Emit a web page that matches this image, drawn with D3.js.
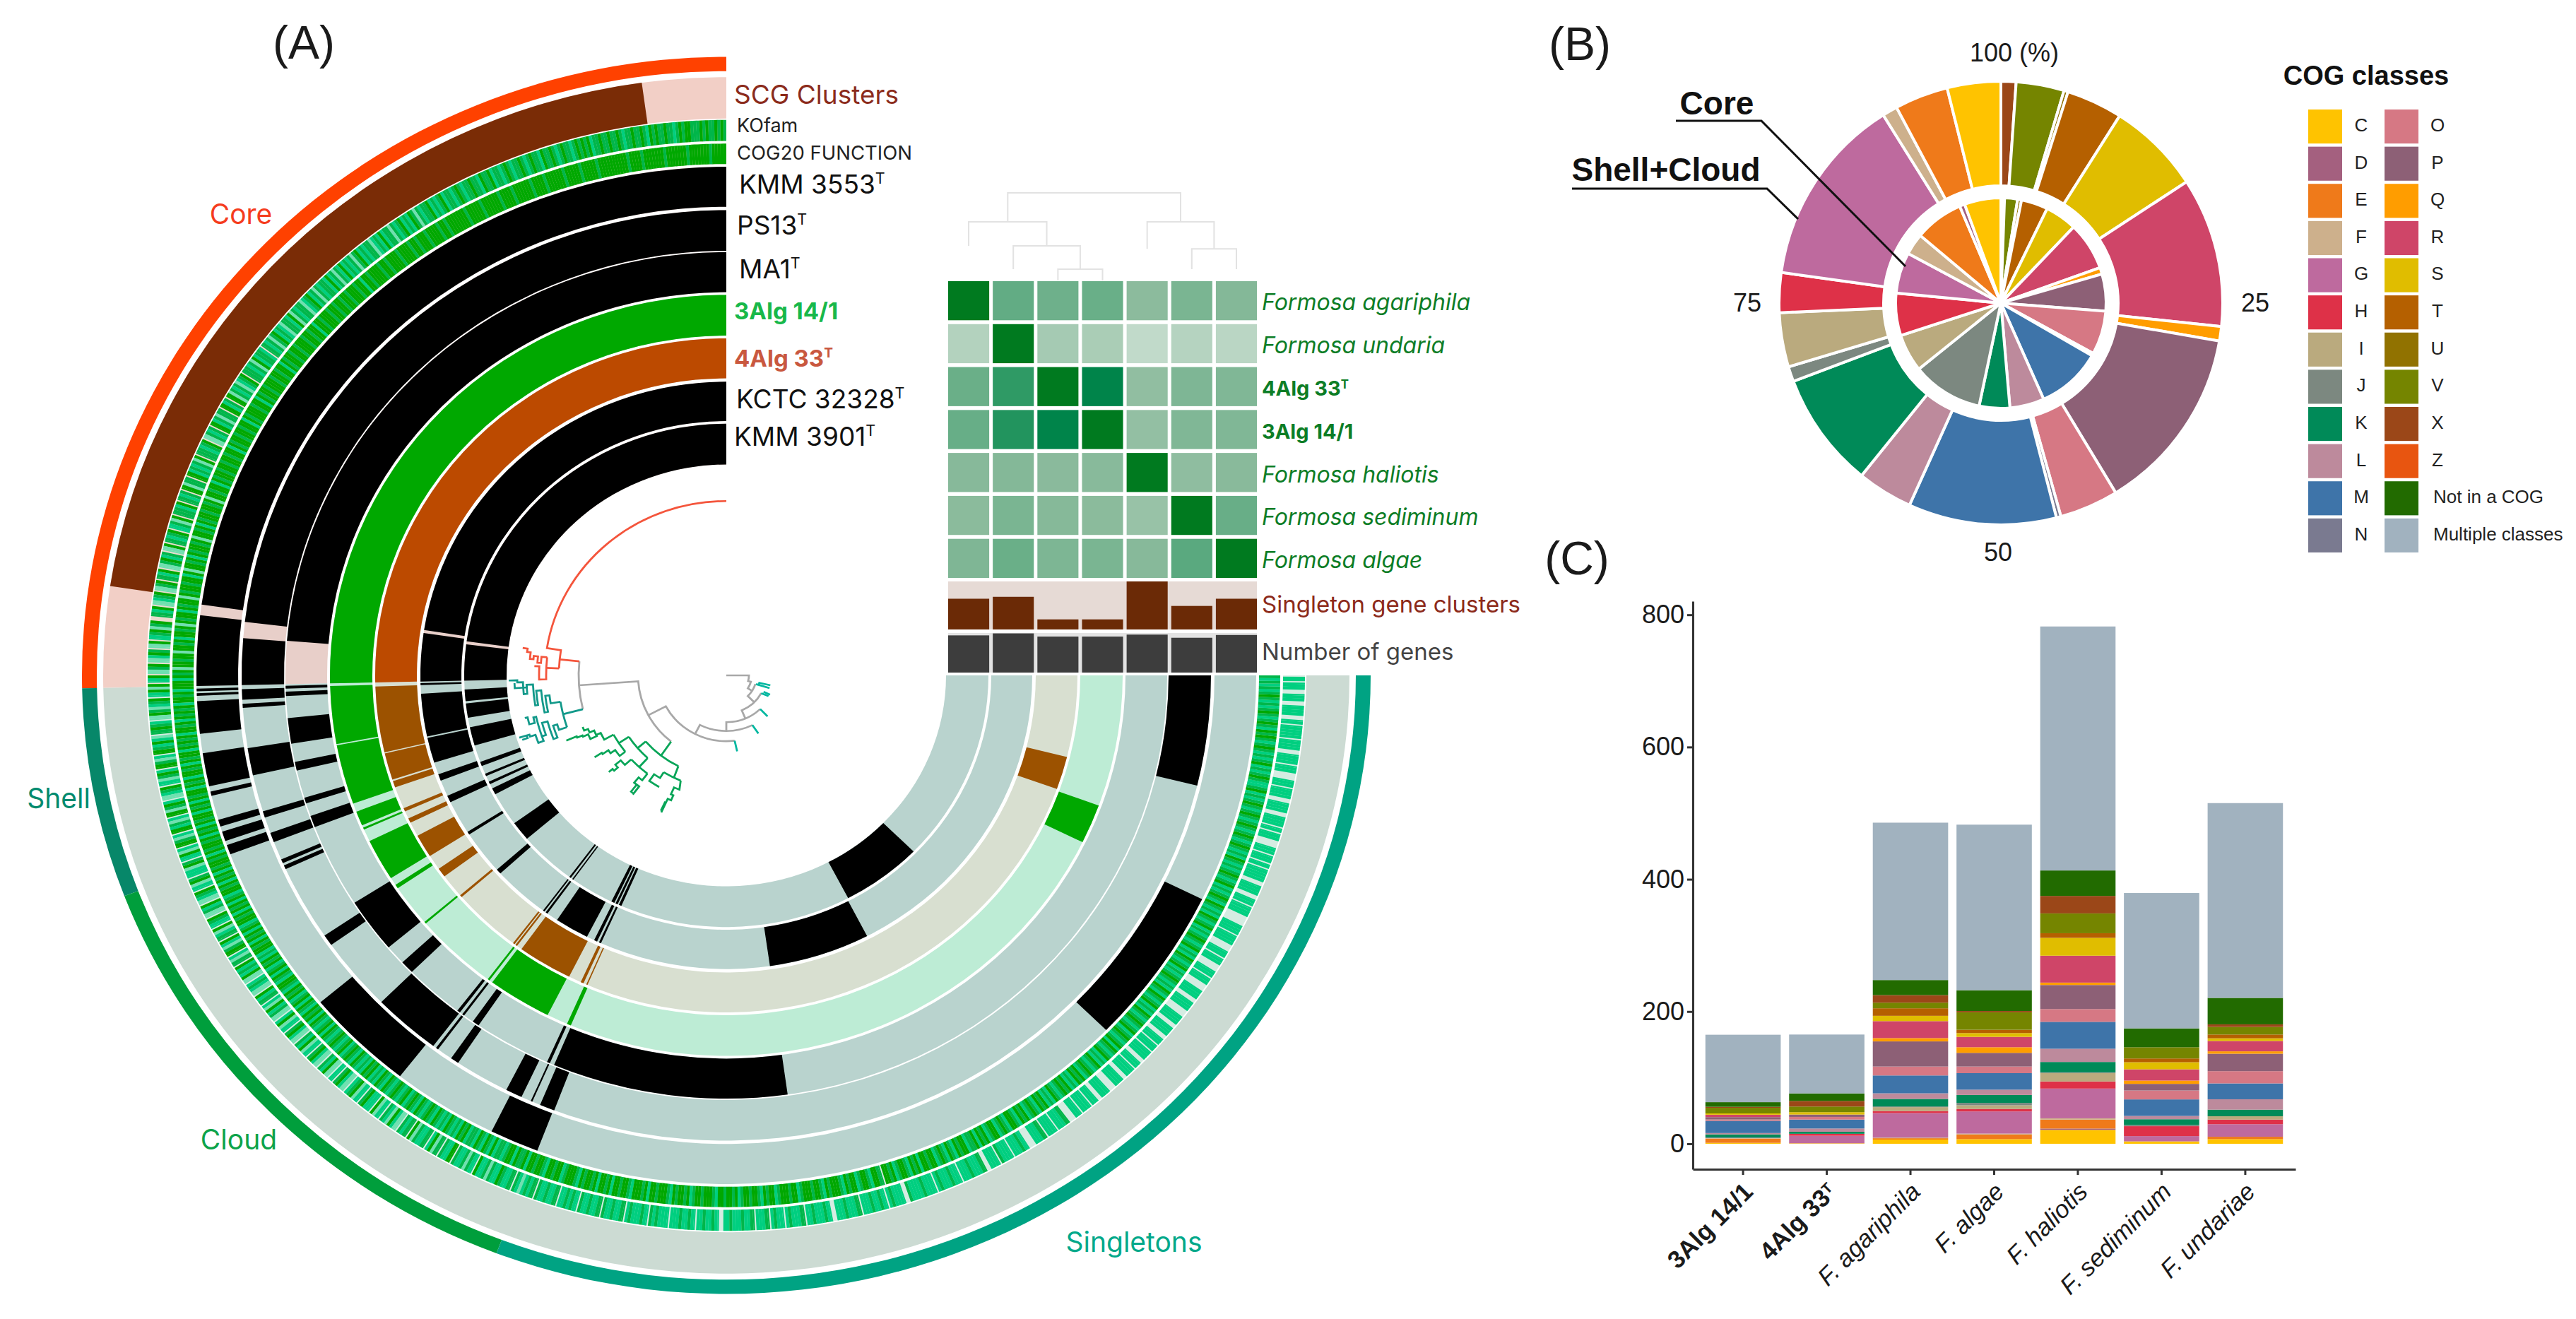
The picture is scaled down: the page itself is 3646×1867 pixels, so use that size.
<!DOCTYPE html>
<html>
<head>
<meta charset="utf-8">
<script src="https://cdn.jsdelivr.net/npm/d3@7"></script>
<style>
  html, body { margin: 0; background: #fff; }
  text { font-family: "Liberation Sans", Arial, sans-serif; }
  .inter text, text.inter { font-family: Inter, "Liberation Sans", sans-serif; }
</style>
</head>
<body>
<svg id="chart" width="3646" height="1867"></svg>
<script>
// ---------- panel A: ring spans, in degrees counter-clockwise from the top ----------
const binNames = ['Core', 'Shell', 'Cloud', 'Singletons'];
const binEnds = [0, 91.2, 110.9, 159.1, 270];
const scgSpans = [[7.8, 81.4]];

const strainNames = ['KMM 3553^T', 'PS13^T', 'MA1^T', '3Alg 14/1', '4Alg 33^T', 'KCTC 32328^T', 'KMM 3901^T'];
const kmm3553 = [[0,82],[83.2,91.2],[91.5,91.8],[92,92.3],[92.9,96.6],[98.8,102.6],[103.2,103.7],[106.5,107.3],[107.9,109],[109.5,110.6],[130,142],[153.7,159.1],[225.8,243.9]];
const ps13 = [[0,83.4],[85.4,91.2],[91.7,93],[93.5,94],[99,102.4],[107,107.8],[109.8,111],[113.3,113.8],[114.1,114.6],[124,125.4],[134.6,142.8],[143.2,143.5],[145.4,146.4],[153,155],[156.2,156.4],[157.4,159.2],[256.3,270]];
const ma1 = [[0,85.3],[91.4,91.8],[92.2,92.8],[95.8,99.3],[101.8,103],[106.8,107.6],[109.4,111],[122.5,130],[132.7,134.5],[142.4,142.8],[143.2,143.5],[144.9,145.8],[156,156.4],[157,188]];
const alg14 = [[0,91.2],[91.6,100.4],[100.6,109.7],[111,113.2],[113.6,113.9],[115.8,122.2],[123.4,124],[130.4,130.7],[143,143.3],[143.8,153.2],[156.3,156.9],[244,250]];
const alg33 = [[0,91.2],[91.9,103.2],[103.4,108],[108.3,109.4],[113.2,113.8],[115.1,115.9],[118.4,122.4],[125,126.6],[130.7,131.1],[142.6,142.9],[143.1,143.4],[144.3,153.4],[155.5,156],[156.5,156.7],[250.3,256]];
const kctc = [[0,81.1],[81.7,91.2],[91.5,91.9],[93.6,102],[102.3,107.3],[109.7,111],[114.2,115.6],[122.2,122.8],[131.4,132.4],[143.2,143.5],[143.8,144.2],[146.4,152.9],[154.4,155],[155.4,155.8],[188.2,207.4]];
const kmm3901 = [[0,82.2],[82.9,91.2],[93.2,95.9],[96.4,99.7],[101.9,106.2],[110.1,111.1],[113,113.6],[115,115.6],[116.7,118.2],[126,130.5],[143.2,143.6],[144,144.3],[154,154.7],[155,155.5],[155.8,156.4],[207.7,225.6]];
const strainSpans = [kmm3553, ps13, ma1, alg14, alg33, kctc, kmm3901];

// function rings, one digit per 0.3 degree: shade of green, 4 = nothing
const kofamStripes = [
  '1010110101110010121101101021011011210110110112010 1',
  '0121101210110211012101121012112011021101121012 1120',
  '1212011213102120121311202123112120131212021312 0211',
  '2131201231121302113212013121421120312114012312 1304',
  '1204113120412134012114031212041130412140211403 1240',
  '1214034120134021401340123402144013012403410234 0134',
  '0240',
  '302401231034210143202104231042013240123420130423 12',
  '0423104230241032',
  '241032401234021340124032140231042314021203421234 02',
  '142302134203241023412032410234120342410234210324 10',
  '224032412302341214031221420314122041221312402213 12',
  '2012214123',
  '212141221221422121241221221412212214212221241212 22',
  '422212212422122124422122212214222142122421222142 21',
  '222124422212221422212212421222441222212224212221 22',
  '422212221442224122242221244422214222422214442242 22',
  '422442224442224422242244222422422442224422244422 24',
  '422244422422444224224442224222444422242244222442 22',
  '242422422444224242224422244222422444224222442224 22',
  '2242442224 4224422424'
].join('').replace(/ /g, '');
const cogStripes = [
  '0000010000000100000001000000010000100000000001 0000',
  '0100000100000010000100000010000100000010000010 0000',
  '0010010000100010010000100001001000010020010001 0010',
  '0100100010020010010001001001020010010001001020 0100',
  '0102001001001020010010010010200100301001001020 1003',
  '0100102010030200100103001020010301002010030010 0301',
  '0200',
  '020100201010201002010102001020100201020010201020 01',
  '0201020100102010',
  '010201020100210201020100210201020100212010210201 20',
  '012010210201201020121020121012102101201212010212 01',
  '201210121021012012101201212012120102112012012021 12',
  '1002011020',
  '010012001002100012010010200102001001200010200100 01',
  '201001021001000120010010210010012010021000100210 00',
  '100120100012010021001200140010210012010200100210 12',
  '012010021102010210021012001201021012010212012101 02',
  '120102101210212012102012101201210121021201210210 21',
  '210121201210212012101212012102121021012120121012 12',
  '102121012101210121012101212012210121201212101210 10',
  '2101210121 2101212121'
].join('').replace(/ /g, '');

// tree branches as [degrees, radius] steps
const treeGrey = [
  [[270,0],[270,32],[255,32],[255,36],[238,36],[238,43]],
  [[253,43],[225,43],[225,56]],
  [[242,56],[203,56],[203,69]],
  [[224,69],[180,69],[180,82]],
  [[206.7,82],[152.9,82],[152.9,97]],
  [[187,97],[118,97],[118,125]],
  [[141.3,125],[94,125],[94,209]],
  [[103.8,209],[84.3,209]]
];
const treeRed = [
  [[84.3,209],[84.3,237]],
  [[87.5,237],[81,237],[81,257],[0,257]],
  [[87.5,237],[87.5,255]],
  [[84,255],[91.3,255],[91.3,265],[87.1,265],[87.1,272]],
  [[84,255],[84,263],[86,263],[86,268],[84,268],[84,274],[85,274],[85,279],[83,279],[83,284],[82,284],[82,291]]
];
const treeTeal = [
  [[103.8,209],[103.9,238]],
  [[99.4,238],[108.7,238]],
  [[99.4,238],[99.4,252],[96.7,252],[96.7,258],[102,258],[102,263],[94.8,263],[94.8,270],[99.3,270],[99.3,274],[92.8,274],[92.8,283],[95.5,283],[95.5,288],[92,288],[92,296],[91.4,296],[91.4,308]],
  [[92.8,283],[93.6,283],[93.6,300],[92.2,300]],
  [[108.7,238],[108.7,250],[106.8,250],[106.8,256],[111,256],[111,262],[105,262],[105,270],[109,270],[109,276],[102.8,276],[102.8,280],[104.5,280],[104.5,288],[102.4,288],[102.4,292]],
  [[109,276],[110.5,276],[110.5,284],[108,284],[108,292],[107.4,292],[107.4,307]],
  [[107.4,296],[108.2,296],[108.2,304]]
];
const treeTips = [
  [[253,44],[253,64]],[[253,48],[256.8,48],[256.8,64]],[[242,56],[243,67]],[[245.4,58],[245.4,68]],
  [[224,69],[224,84]],[[206.7,82],[207.9,97]],[[187,97],[187.8,113]]
];
const treeGreen = [
  [[141.3,125],[142,150]],
  [[130.5,150],[153.1,150]],
  [[130.5,150],[130.5,165]],
  [[123.3,165],[137.6,165]],
  [[123.3,165],[123.3,182]],
  [[118.7,182],[128.2,182]],
  [[118.7,182],[118.7,197],[115.5,197],[115.5,204],[113.5,204],[113.5,211],[112,211],[112,217],[110.5,217]],
  [[115.5,204],[116,204],[116,214],[114,214],[114,222],[113.5,222],[113.5,230],[113,230],[113,246]],
  [[128.2,182],[128.2,192],[125,192],[125,200],[123.5,200],[123.5,210],[122.9,210],[122.9,222]],
  [[137.6,165],[137.6,183]],
  [[132.6,183],[142.4,183]],
  [[132.6,183],[132.6,195],[130,195],[130,205],[131.5,205],[131.5,212],[130.6,212],[130.6,219]],
  [[142.4,183],[142.4,195],[140.5,195],[140.5,205],[143,205],[143,220]],
  [[141.8,205],[141.8,218],[142.6,218]],
  [[153.1,150],[153.8,168]],
  [[148.2,168],[157.4,168]],
  [[148.2,168],[148.2,178],[145,178],[145,190],[150,190]],
  [[157.4,168],[158.5,181],[155.9,181],[155.9,192],[157,192],[157,200],[155.5,200],[155.5,222]],
  [[155.1,205],[155.1,220]]
];

// heat map of panel A, share of the strongest link
const heatRows = ['Formosa agariphila', 'Formosa undaria', '4Alg 33^T', '3Alg 14/1', 'Formosa haliotis', 'Formosa sediminum', 'Formosa algae'];
const heatValues = [
  [1, .635, .597, .613, .5, .558, .526],
  [.33, 1, .39, .37, .27, .32, .3],
  [.61, .8, 1, .95, .48, .545, .54],
  [.62, .84, .95, 1, .47, .54, .54],
  [.516, .526, .506, .513, 1, .487, .51],
  [.503, .558, .52, .503, .448, 1, .616],
  [.542, .61, .548, .558, .516, .66, 1]
];
const singletonShare = [64, 68, 21, 21, 100, 49, 64];
const geneShare = [94, 99, 91, 91, 96, 88, 95];
// left, right, height, left foot, right foot (column units, height 0-100)
const dendroMerges = [[2,3,13,0,0],[1,2.5,39.5,13,13],[0,1.75,67,39.5,39.5],[5,6,36,13,13],[4,5.5,67,36,36],[.875,4.75,100,67,67]];

// ---------- panels B and C ----------
const cogClasses = ['C','D','E','F','G','H','I','J','K','L','M','N','O','P','Q','R','S','T','U','V','X','Z','Not in a COG','Multiple classes'];
const cogColors = ['#ffc300','#a4607f','#ef7a1a','#cdb08c','#be6a9e','#de3148','#baaa7e','#7c8880','#008a58','#bd8a9c','#3e74a9','#7a7a90','#d67884','#8d6076','#ff9d00','#cf4568','#e0bd00','#b56000','#917200','#758500','#9b4718','#e85510','#226b00','#a1b2bf'];

const shellClasses = ['X','V','U','T','S','R','Q','P','O','N','M','L','K','J','I','H','G','F','E','C'];
const shellShare = [1.1,3.5,.3,4.1,6.8,10.9,1.05,13.6,4.3,.33,10.8,4.05,8.45,1.1,3.95,2.9,13.9,1.1,3.9,3.9];
const coreClasses = ['V','U','T','S','R','Q','P','O','N','M','L','K','J','I','H','G','F','E','D','C'];
const coreShare = [2,.6,4.1,4.9,7.4,1,5.7,6.7,.4,10,5.3,4.7,10.9,5.8,6.5,6.3,3.3,7.5,.8,5.6];
const pieTicks = ['100 (%)', '25', '50', '75'];

const genomes = ['3Alg 14/1', '4Alg 33^T', 'F. agariphila', 'F. algae', 'F. haliotis', 'F. sediminum', 'F. undariae'];
// counts in cogClasses order
const countsAlg14 = [1.4,0,6.4,.7,.7,0,0,0,5,2,18.5,0,2,3.6,0,3.6,2,0,0,8.5,1.5,0,7,102];
const countsAlg33 = [.7,0,0,0,11.4,3,0,0,3,5,13.5,0,4,3.6,0,0,3.6,0,0,8.5,8.5,0,11.4,89];
const countsAgariphila = [6.4,0,2,1,37,3,6,1,11.4,8.5,27,0,13.5,38,5,25.7,8,11.4,0,8.5,11.4,0,22.8,238];
const countsAlgae = [7,0,7,1.4,33.5,3.6,5.7,3.6,12,8,25,0,10,20.7,8.5,15.7,5.7,5,0,26.4,2,0,31.4,250.4];
const countsHaliotis = [21,2,13.5,2,45,10.7,12.8,1,15.7,20,40.7,0,19.3,36.4,3.6,40.7,27,7,0,30,26.4,0,38.5,369];
const countsSediminum = [3.6,0,0,0,8,15,0,2,8.5,5,25,0,13.5,10,5,17,10.7,5.7,0,17,0,0,28.5,204.7];
const countsUndariae = [7,0,3.6,0,19,7,5,0,10,15.7,24,0,18.5,26.4,3.6,15.7,4,5.7,0,11.4,4,0,40,294.6];
const genomeCounts = [countsAlg14, countsAlg33, countsAgariphila, countsAlgae, countsHaliotis, countsSediminum, countsUndariae];
const yTicks = [0, 200, 400, 600, 800];

// ---------- drawing ----------
const svg = d3.select('#chart');
const colorOf = d3.scaleOrdinal(cogClasses, cogColors);

// text with an optional ^T superscript
function putLabel(sel, label) {
  const parts = label.split('^');
  sel.text(parts[0]);
  if (parts[1]) {
    sel.append('tspan').attr('dy', '-0.45em').attr('font-size', '58%').text(parts[1]);
  }
  return sel;
}

function panelLetter(txt, x, y) {
  svg.append('text').attr('x', x).attr('y', y).attr('text-anchor', 'middle')
    .attr('dominant-baseline', 'middle').attr('font-size', 66).attr('fill', '#1a1a1a').text(txt);
}
panelLetter('(A)', 430, 66);
panelLetter('(B)', 2236, 68);
panelLetter('(C)', 2232, 796);

// panel A rings
const rings = svg.append('g').attr('transform', 'translate(1028,956) scale(1,0.96)');
const angle = d3.scaleLinear().domain([0, 360]).range([0, -2 * Math.PI]);
const arcGen = d3.arc();

function drawSpan(g, a0, a1, r0, r1, color) {
  g.append('path').attr('fill', color)
    .attr('d', arcGen({ innerRadius: r0, outerRadius: r1, startAngle: angle(a0), endAngle: angle(a1) }));
}

const binColors = ['#ff4100', '#078769', '#009e3c', '#00a383'];
binNames.forEach((b, i) => drawSpan(rings, binEnds[i], binEnds[i + 1], 891, 912, binColors[i]));

drawSpan(rings, 0, binEnds[1], 821, 882, '#f2cfc6');
drawSpan(rings, binEnds[1], 270, 821, 882, '#ccdbd3');
scgSpans.forEach(s => drawSpan(rings, s[0], s[1], 821, 882, '#7a2c06'));

function drawStripes(stripes, r0, r1) {
  const shades = ['#00a800', '#00b64a', '#00cf80', '#6fe0b0'];
  drawSpan(rings, 0, binEnds[1], r0, r1, '#e9dccf');
  drawSpan(rings, binEnds[1], 270, r0, r1, '#d5ece2');
  let last = '0';
  stripes.split('').forEach((c, i) => {
    const a0 = i * 0.3;
    if (a0 >= 270) return;
    if (c === '4') {
      // a lone gap is a thin line, the stripe before it runs on
      if (last !== '4') drawSpan(rings, a0, a0 + 0.16, r0, r1, shades[+last]);
    } else {
      drawSpan(rings, a0, Math.min(a0 + 0.31, 270), r0, r1, shades[+c]);
    }
    last = c;
  });
}
drawStripes(kofamStripes, 788, 819);
drawStripes(cogStripes, 754, 784);

const ringRadii = [[691,750],[626,686],[565,624],[501,561],[438,497],[375,433],[311,371]];
strainSpans.forEach((spans, i) => {
  const [r0, r1] = ringRadii[i];
  const isAlg14 = i === 3, isAlg33 = i === 4;
  const restBg = isAlg14 ? '#bdecd5' : isAlg33 ? '#d8dfd0' : '#b9d3ce';
  const coreBg = isAlg14 ? '#bdecd5' : isAlg33 ? '#d8dfd0' : '#e8cfc9';
  drawSpan(rings, 0, binEnds[1], r0, r1, coreBg);
  drawSpan(rings, binEnds[1], 270, r0, r1, restBg);
  spans.forEach(s => {
    let color = '#000';
    if (isAlg14) color = '#00a800';
    if (isAlg33) color = s[0] < binEnds[1] ? '#bc4a00' : '#9c5200';
    drawSpan(rings, s[0], s[1], r0, r1, color);
  });
});

// the tree in the middle
function treePath(steps) {
  const p = d3.path();
  const theta = a => (-a - 90) * Math.PI / 180;
  steps.forEach((s, i) => {
    const x = s[1] * Math.cos(theta(s[0])), y = s[1] * Math.sin(theta(s[0]));
    if (i === 0) { p.moveTo(x, y); return; }
    const prev = steps[i - 1];
    if (prev[1] === s[1]) p.arc(0, 0, s[1], theta(prev[0]), theta(s[0]), s[0] > prev[0]);
    else p.lineTo(x, y);
  });
  return p.toString();
}
function drawTree(branches, color) {
  rings.append('g').selectAll('path').data(branches).join('path')
    .attr('d', treePath).attr('fill', 'none').attr('stroke', color).attr('stroke-width', 2.8);
}
drawTree(treeGrey, '#a8a8a8');
drawTree(treeRed, '#f4553c');
drawTree(treeTeal, '#12998a');
drawTree(treeTips, '#00b7a0');
drawTree(treeGreen, '#08a558');

// ring labels
const labelsA = svg.append('g').attr('class', 'inter');
function ringLabel(label, x, y, size, color, weight) {
  putLabel(labelsA.append('text').attr('x', x).attr('y', y).attr('dominant-baseline', 'middle')
    .attr('font-size', size).attr('fill', color).attr('font-weight', weight || 400), label);
}
ringLabel('SCG Clusters', 1039, 137, 37, '#8b2b1b');
ringLabel('KOfam', 1043, 180, 27, '#222');
ringLabel('COG20 FUNCTION', 1043, 218, 27.5, '#222');
const strainLabelX = [1046, 1043, 1046, 1039, 1039, 1042, 1039];
const strainLabelY = [264, 322, 384, 443, 510, 568, 621];
const strainLabelColor = ['#111', '#111', '#111', '#18b84a', '#c9583f', '#111', '#111'];
strainNames.forEach((s, i) => {
  const bold = i === 3 || i === 4;
  ringLabel(s, strainLabelX[i], strainLabelY[i], bold ? 33 : 37, strainLabelColor[i], bold ? 700 : 400);
});
const binLabelX = [341, 83, 338, 1605];
const binLabelY = [306, 1133, 1616, 1761];
const binLabelColor = ['#f53c1e', '#008a6e', '#0ca34a', '#00a88a'];
binNames.forEach((b, i) => labelsA.append('text').attr('x', binLabelX[i]).attr('y', binLabelY[i])
  .attr('text-anchor', 'middle').attr('dominant-baseline', 'middle').attr('font-size', 39)
  .attr('fill', binLabelColor[i]).text(b));

// heat map and the two bar rows under it
const colBand = d3.scaleBand().domain(d3.range(7)).range([1342, 1779]).paddingInner(0.08);
const rowBand = d3.scaleBand().domain(d3.range(7)).range([398, 818]).paddingInner(0.09);
const heatColor = d3.scaleLinear().domain([0, .5, .8, .95, 1]).range(['#ffffff', '#8cbb9d', '#2f9a65', '#00844a', '#007a1f']);

heatValues.forEach((row, i) => {
  svg.append('g').selectAll('rect').data(row).join('rect')
    .attr('x', (d, j) => colBand(j)).attr('y', rowBand(i))
    .attr('width', colBand.bandwidth()).attr('height', rowBand.bandwidth())
    .attr('fill', d => heatColor(d));
  const bold = heatRows[i].indexOf('Alg') >= 0;
  putLabel(labelsA.append('text').attr('x', 1786).attr('y', rowBand(i) + rowBand.bandwidth() / 2 + 5)
    .attr('dominant-baseline', 'middle').attr('font-size', bold ? 29 : 32)
    .attr('font-style', bold ? 'normal' : 'italic').attr('font-weight', bold ? 700 : 400)
    .attr('fill', '#0d7d26'), heatRows[i]);
});

function barRow(values, top, bottom, bg, color, label, labelColor) {
  const y = d3.scaleLinear().domain([0, 100]).range([bottom, top]);
  svg.append('rect').attr('x', colBand(0)).attr('y', top)
    .attr('width', colBand(6) + colBand.bandwidth() - colBand(0)).attr('height', bottom - top).attr('fill', bg);
  svg.append('g').selectAll('rect').data(values).join('rect')
    .attr('x', (d, j) => colBand(j)).attr('y', d => y(d))
    .attr('width', colBand.bandwidth()).attr('height', d => bottom - y(d)).attr('fill', color);
  labelsA.append('text').attr('x', 1786).attr('y', (top + bottom) / 2 + 1).attr('dominant-baseline', 'middle')
    .attr('font-size', 33).attr('fill', labelColor).text(label);
}
barRow(singletonShare, 823, 891, '#e6dad5', '#6b2a06', 'Singleton gene clusters', '#8c2a1a');
barRow(geneShare, 896, 952, '#e3e3e3', '#3d3d3d', 'Number of genes', '#444');

// column dendrogram
const dendroX = d3.scaleLinear().domain([0, 6]).range([colBand(0) + colBand.bandwidth() / 2, colBand(6) + colBand.bandwidth() / 2]);
const dendroY = d3.scaleLinear().domain([0, 100]).range([397, 273]);
svg.append('g').selectAll('path').data(dendroMerges).join('path')
  .attr('d', m => {
    const p = d3.path();
    p.moveTo(dendroX(m[0]), dendroY(m[3]));
    p.lineTo(dendroX(m[0]), dendroY(m[2]));
    p.lineTo(dendroX(m[1]), dendroY(m[2]));
    p.lineTo(dendroX(m[1]), dendroY(m[4]));
    return p.toString();
  })
  .attr('fill', 'none').attr('stroke', '#e2e2e2').attr('stroke-width', 2);

// panel B donut
const pieG = svg.append('g').attr('transform', 'translate(2832,429)');
function drawPie(classes, share, r0, r1, start, end) {
  const slices = d3.pie().sort(null).startAngle(start).endAngle(end)(share);
  pieG.append('g').selectAll('path').data(slices).join('path')
    .attr('d', d3.arc().innerRadius(r0).outerRadius(r1))
    .attr('fill', (d, i) => colorOf(classes[i]))
    .attr('stroke', '#fff').attr('stroke-width', 4);
}
drawPie(shellClasses, shellShare, 166, 314, 0, 2 * Math.PI);
drawPie(coreClasses, coreShare, 0, 149, 2 * Math.PI / 180, 2 * Math.PI);

const pieTickX = [2851, 3192, 2828, 2473];
const pieTickY = [77, 431, 784, 431];
pieTicks.forEach((t, i) => svg.append('text').attr('x', pieTickX[i]).attr('y', pieTickY[i])
  .attr('text-anchor', 'middle').attr('dominant-baseline', 'middle').attr('font-size', 36).attr('fill', '#1a1a1a').text(t));

function calloutLabel(txt, x, y, ux0, ux1, uy, ex, ey) {
  svg.append('text').attr('x', x).attr('y', y).attr('text-anchor', 'middle').attr('dominant-baseline', 'middle')
    .attr('font-size', 46).attr('font-weight', 700).attr('fill', '#111').text(txt);
  svg.append('path').attr('fill', 'none').attr('stroke', '#111').attr('stroke-width', 3)
    .attr('d', d3.line()([[ux0, uy], [ux1, uy], [ex, ey]]));
}
calloutLabel('Core', 2430, 150, 2372, 2493, 171, 2697, 377);
calloutLabel('Shell+Cloud', 2358, 244, 2225, 2501, 267, 2545, 310);

// legend
svg.append('text').attr('x', 3349).attr('y', 110).attr('text-anchor', 'middle').attr('dominant-baseline', 'middle')
  .attr('font-size', 38).attr('font-weight', 700).attr('fill', '#111').text('COG classes');
const legendRow = d3.scaleBand().domain(d3.range(12)).range([155, 782]).paddingInner(0.085);
const legend = svg.append('g').selectAll('g').data(cogClasses).join('g')
  .attr('transform', (d, i) => `translate(${i < 12 ? 3267 : 3375},${legendRow(i % 12)})`);
legend.append('rect').attr('width', 48).attr('height', legendRow.bandwidth()).attr('fill', d => colorOf(d));
legend.append('text').attr('y', legendRow.bandwidth() / 2).attr('dominant-baseline', 'middle')
  .attr('x', d => d.length > 1 ? 69 : 75).attr('text-anchor', d => d.length > 1 ? 'start' : 'middle')
  .attr('font-size', 26).attr('fill', '#222').text(d => d);

// panel C stacked bars
const barRows = genomes.map((g, i) => {
  const row = { genome: g };
  cogClasses.forEach((c, j) => { row[c] = genomeCounts[i][j]; });
  return row;
});
const x = d3.scaleBand().domain(genomes).range([2396, 3249]).paddingInner(0.1).paddingOuter(0.15);
const y = d3.scaleLinear().domain([-38.5, 820.5]).range([1655, 851]);
const series = d3.stack().keys(cogClasses)(barRows);

svg.append('g').selectAll('g').data(series).join('g')
  .attr('fill', d => colorOf(d.key))
  .selectAll('rect').data(d => d).join('rect')
  .attr('x', d => x(d.data.genome)).attr('width', x.bandwidth())
  .attr('y', d => y(d[1])).attr('height', d => y(d[0]) - y(d[1]));

const yAxis = svg.append('g').attr('transform', 'translate(2396,0)')
  .call(d3.axisLeft(y).tickValues(yTicks).tickSize(8).tickSizeOuter(0).tickPadding(4));
yAxis.selectAll('text').attr('font-size', 36).attr('fill', '#1a1a1a').style('font-family', '"Liberation Sans"');

const xAxis = svg.append('g').attr('transform', 'translate(0,1655)')
  .call(d3.axisBottom(x).tickSize(8).tickSizeOuter(0).tickFormat(''));
genomes.forEach((g, i) => {
  const isStrain = i < 2;
  putLabel(xAxis.append('text')
    .attr('transform', `translate(${x(g) + x.bandwidth() / 2 + 16},34) rotate(-45)`)
    .attr('text-anchor', 'end').attr('font-size', 35).attr('fill', '#1a1a1a')
    .attr('font-weight', isStrain ? 700 : 400).attr('font-style', isStrain ? 'normal' : 'italic'), g);
});
svg.selectAll('.domain, .tick line').attr('stroke', '#333').attr('stroke-width', 3);
</script>
</body>
</html>
